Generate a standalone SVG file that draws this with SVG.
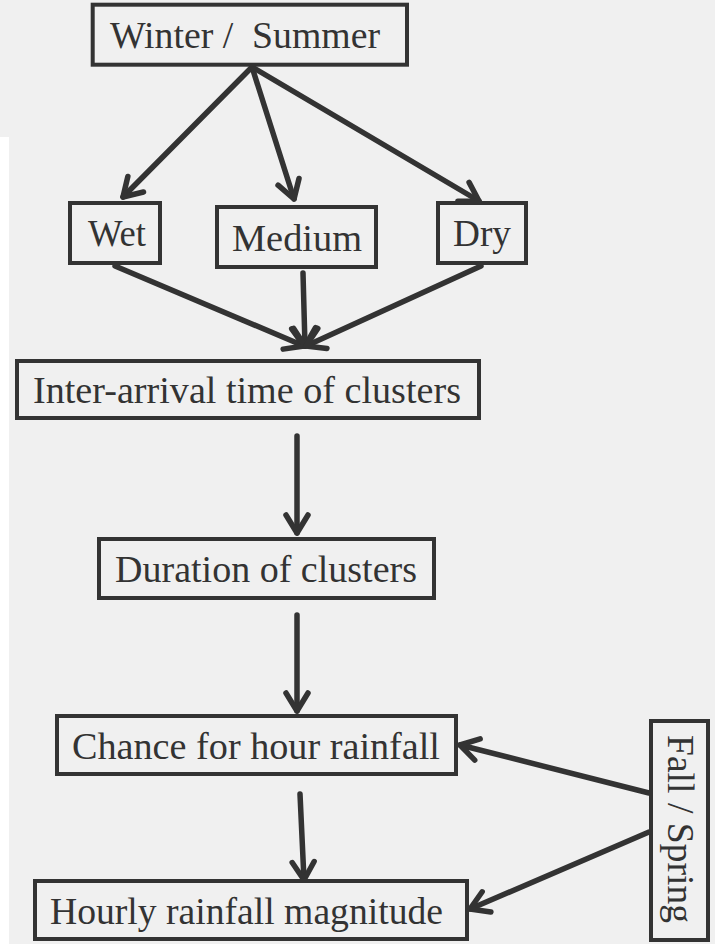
<svg xmlns="http://www.w3.org/2000/svg" width="715" height="944" viewBox="0 0 715 944">
<defs>
<style>
.box{fill:none;stroke:#333;stroke-width:4}
.t{font-family:"Liberation Serif",Tinos,"Times New Roman",Times,"Nimbus Roman","Nimbus Roman No9 L",FreeSerif,"DejaVu Serif","Noto Serif",serif;font-size:37px;fill:#333}
.c{fill:none;stroke:#333;stroke-width:5.5;stroke-linecap:round}
</style>
<marker id="ah" markerUnits="userSpaceOnUse" viewBox="-24 -15 28 30" refX="0" refY="0" markerWidth="28" markerHeight="30" orient="auto">
<path d="M-18,-11 L0,0 L-18,11" fill="none" stroke="#333" stroke-width="5.5" stroke-linecap="round" stroke-linejoin="round"/>
</marker>
</defs>
<rect x="0" y="0" width="715" height="944" fill="#f0f0f0"/>
<rect x="0" y="137" width="9" height="807" fill="#ffffff"/>
<g id="connectors">
<line class="c" x1="252" y1="67" x2="123" y2="197" marker-end="url(#ah)"/>
<line class="c" x1="252" y1="67" x2="294" y2="199" marker-end="url(#ah)"/>
<line class="c" x1="252" y1="67" x2="479" y2="201" marker-end="url(#ah)"/>
<line class="c" x1="115" y1="266" x2="304" y2="346" marker-end="url(#ah)"/>
<line class="c" x1="303" y1="273" x2="305" y2="346" marker-end="url(#ah)"/>
<line class="c" x1="481" y1="266" x2="306" y2="346" marker-end="url(#ah)"/>
<line class="c" x1="297" y1="436" x2="297" y2="533" marker-end="url(#ah)"/>
<line class="c" x1="297" y1="615" x2="297" y2="711" marker-end="url(#ah)"/>
<line class="c" x1="300" y1="794" x2="304" y2="880" marker-end="url(#ah)"/>
<line class="c" x1="649" y1="793" x2="460" y2="745" marker-end="url(#ah)"/>
<line class="c" x1="649" y1="832" x2="470" y2="909" marker-end="url(#ah)"/>
</g>
<g id="winter-summer">
<rect class="box" x="92.7" y="4.7" width="314.3" height="60"/>
<text class="t" x="110" y="48" textLength="270" lengthAdjust="spacingAndGlyphs" xml:space="preserve">Winter /  Summer</text>
</g>
<g id="wet">
<rect class="box" x="70" y="203" width="90" height="60"/>
<text class="t" x="88" y="246" textLength="58" lengthAdjust="spacingAndGlyphs">Wet</text>
</g>
<g id="medium">
<rect class="box" x="217" y="207" width="159" height="60"/>
<text class="t" x="232" y="251" textLength="130" lengthAdjust="spacingAndGlyphs">Medium</text>
</g>
<g id="dry">
<rect class="box" x="438" y="203" width="88" height="60"/>
<text class="t" x="453" y="246" textLength="58" lengthAdjust="spacingAndGlyphs">Dry</text>
</g>
<g id="inter-arrival">
<rect class="box" x="17" y="361" width="462" height="57"/>
<text class="t" x="33" y="403" textLength="428" lengthAdjust="spacingAndGlyphs">Inter-arrival time of clusters</text>
</g>
<g id="duration">
<rect class="box" x="99" y="539" width="335" height="59"/>
<text class="t" x="115" y="582" textLength="302" lengthAdjust="spacingAndGlyphs">Duration of clusters</text>
</g>
<g id="chance">
<rect class="box" x="57" y="716" width="399" height="58"/>
<text class="t" x="72" y="759" textLength="368" lengthAdjust="spacingAndGlyphs">Chance for hour rainfall</text>
</g>
<g id="hourly">
<rect class="box" x="35" y="881" width="432" height="58"/>
<text class="t" x="50" y="924" textLength="393" lengthAdjust="spacingAndGlyphs">Hourly rainfall magnitude</text>
</g>
<g id="fall-spring">
<rect class="box" x="651" y="721" width="57" height="219"/>
<text class="t" transform="translate(668,735) rotate(90)" x="0" y="0" textLength="188" lengthAdjust="spacingAndGlyphs">Fall / Spring</text>
</g>
</svg>
